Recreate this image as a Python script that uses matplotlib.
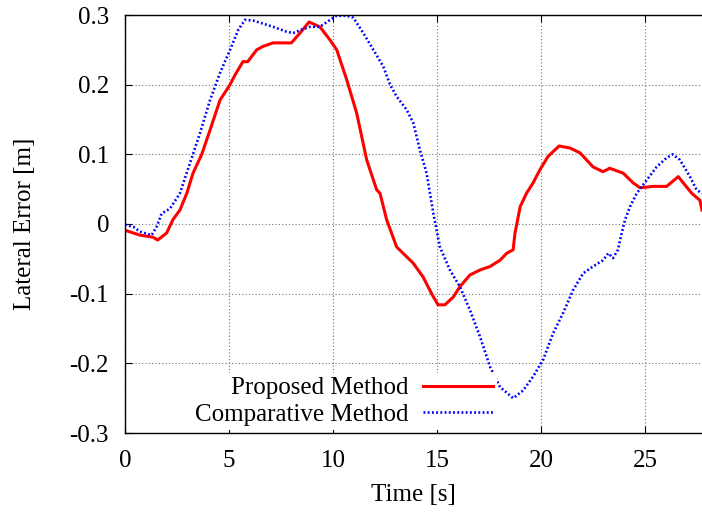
import matplotlib
matplotlib.use('Agg')
import matplotlib.pyplot as plt
from matplotlib.ticker import FuncFormatter

plt.rcParams['font.family'] = ['Liberation Serif', 'DejaVu Serif']
plt.rcParams['font.size'] = 18

# Proposed method (red, solid)
prop_t = [0, 0.72, 1.35, 1.57, 2.0, 2.3, 2.64, 2.97, 3.27, 3.69, 4.09, 4.57, 5.05, 5.29,
          5.67, 5.9, 6.33, 6.64, 7.12, 7.6, 8.0, 8.41, 8.85, 9.37, 9.86, 10.18, 10.66,
          11.14, 11.62, 12.1, 12.26, 12.58, 13.06, 13.54, 13.85, 14.33, 14.74, 15.05,
          15.38, 15.78, 16.1, 16.59, 17.07, 17.55, 18.03, 18.35, 18.66, 18.75, 19.0,
          19.3, 19.62, 19.95, 20.34, 20.87, 21.4, 21.88, 22.5, 22.98, 23.3, 23.95,
          24.43, 24.76, 25.4, 26.04, 26.6, 26.84, 27.25, 27.64, 27.74]
prop_err = [-0.009, -0.016, -0.019, -0.023, -0.013, 0.006, 0.02, 0.044, 0.073, 0.10,
            0.135, 0.178, 0.20, 0.214, 0.233, 0.233, 0.25, 0.255, 0.26, 0.26, 0.26,
            0.274, 0.29, 0.283, 0.264, 0.25, 0.207, 0.159, 0.092, 0.049, 0.044, 0.006,
            -0.033, -0.047, -0.056, -0.076, -0.1, -0.116, -0.116, -0.105, -0.09, -0.073,
            -0.066, -0.061, -0.052, -0.042, -0.037, -0.013, 0.025, 0.044, 0.059, 0.078,
            0.097, 0.112, 0.109, 0.102, 0.082, 0.075, 0.08, 0.073, 0.059, 0.052, 0.054,
            0.054, 0.068, 0.059, 0.044, 0.034, 0.02]

# Comparative method (blue, dotted)
comp_t = [0, 0.4, 0.72, 1.28, 1.52, 1.76, 2.16, 2.64, 3.12, 3.6, 4.09, 4.57, 5.05, 5.45,
          5.77, 6.16, 6.49, 7.12, 7.77, 8.08, 8.49, 8.89, 9.37, 9.86, 10.18, 10.66,
          10.98, 11.46, 11.94, 12.42, 12.74, 13.06, 13.54, 13.86, 14.18, 14.5, 14.82,
          15.14, 15.62, 16.1, 16.59, 17.07, 17.55, 18.03, 18.66, 19.14, 19.62, 20.1,
          20.58, 21.06, 21.54, 22.02, 22.5, 22.98, 23.24, 23.46, 23.7, 23.8, 24.04,
          24.28, 24.6, 25.08, 25.56, 26.04, 26.33, 26.68, 27.16, 27.48, 27.74]
comp_err = [-0.001, -0.004, -0.011, -0.016, -0.004, 0.015, 0.022, 0.044, 0.087, 0.13,
            0.178, 0.217, 0.25, 0.279, 0.293, 0.292, 0.289, 0.283, 0.276, 0.274, 0.279,
            0.283, 0.283, 0.293, 0.299, 0.299, 0.296, 0.274, 0.25, 0.226, 0.2, 0.183,
            0.164, 0.145, 0.106, 0.073, 0.016, -0.033, -0.066, -0.09, -0.124, -0.162,
            -0.205, -0.234, -0.25, -0.239, -0.219, -0.195, -0.157, -0.128, -0.095,
            -0.071, -0.061, -0.052, -0.042, -0.049, -0.037, -0.023, 0.006, 0.025, 0.044,
            0.063, 0.082, 0.095, 0.1, 0.092, 0.068, 0.049, 0.044]

x_ticks = [0, 5, 10, 15, 20, 25]
y_ticks = [-0.3, -0.2, -0.1, 0, 0.1, 0.2, 0.3]

fig = plt.figure(figsize=(7.02, 5.13), dpi=100)
ax = fig.add_axes([125 / 702, 80 / 513, 577 / 702, 418 / 513])

line_p, = ax.plot(prop_t, prop_err, color='#ff0000', lw=2.2, label='Proposed Method')
line_c, = ax.plot(comp_t, comp_err, color='#0000ff', lw=1.9, linestyle=(0, (0.7, 0.9)),
                  label='Comparative Method')

ax.set_xlim(0, 27.74)
ax.set_ylim(-0.3, 0.3)
ax.set_xticks(x_ticks)
ax.set_yticks(y_ticks)
ax.yaxis.set_major_formatter(FuncFormatter(lambda v, p: '0' if abs(v) < 1e-9 else ('%.1f' % v)))
ax.tick_params(direction='in', length=5, width=0.8, top=True, right=False)
ax.tick_params(axis='y', pad=11.5)
ax.tick_params(axis='x', pad=12)
ax.grid(True, color='0.45', linestyle=(0, (1, 2)), lw=0.8)
ax.spines['right'].set_visible(False)
for s in ['left', 'top', 'bottom']:
    ax.spines[s].set_linewidth(1.0)

ax.set_xlabel('Time [s]', labelpad=9)
ax.set_ylabel('Lateral Error [m]', labelpad=24)

# gnuplot-style key: right-aligned text, sample on the right
leg_kw = dict(loc='upper right', markerfirst=False, frameon=True, handlelength=2.8,
              handletextpad=0.6, borderpad=0.15, borderaxespad=0, fancybox=False,
              fontsize=18)
leg1 = ax.legend(handles=[line_p], bbox_to_anchor=(372 / 577, 0.143), **leg_kw)
leg1.get_frame().set_edgecolor('none')
leg1.get_frame().set_alpha(1)
ax.add_artist(leg1)
leg2 = ax.legend(handles=[line_c], bbox_to_anchor=(372 / 577, 0.08), **leg_kw)
leg2.get_frame().set_edgecolor('none')
leg2.get_frame().set_alpha(1)

fig.savefig('out.png', dpi=100)
